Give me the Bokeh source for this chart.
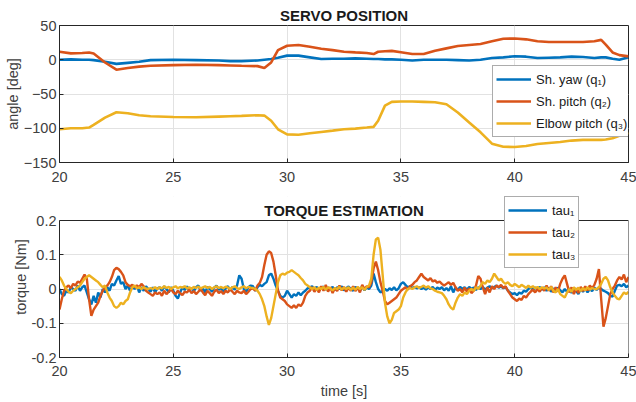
import numpy as np
from bokeh.plotting import figure
from bokeh.layouts import column
from bokeh.models import (Legend, LegendItem, FixedTicker, Range1d, BoxAnnotation,
                          Label, CustomJSTickFormatter)
from bokeh.embed import file_html
from bokeh.resources import INLINE

# ---------------- data ----------------
x_ticks = [20, 25, 30, 35, 40, 45]
pos_ticks = [-150, -100, -50, 0, 50]
tau_ticks = [-0.2, -0.1, 0, 0.1, 0.2]

q_time = [20, 20.5, 21, 21.3, 21.5, 22, 22.5, 23, 23.5, 24, 25, 26, 27, 27.5, 28,
          28.7, 29, 29.3, 29.6, 30, 30.5, 31, 31.5, 32, 32.5, 33, 33.5, 33.8, 34,
          34.3, 34.6, 35, 35.5, 36, 36.5, 37, 37.5, 38, 38.5, 39, 39.5, 40, 40.5,
          41, 41.5, 42, 42.5, 43, 43.5, 43.8, 44, 44.3, 44.6, 45]
q1 = [0, 0.5, 0, 0, -0.5, -3, -6, -4.5, -3, -0.5, 0, -0.5, -1, -2, -2,
      -1, 0, 1, 3, 6, 6, 3.5, 1, 1.5, 1.5, 2, 1.5, 1, 1,
      0.5, 0.5, 0, -1, 0, 0, 0, -0.5, -1, 0, 2.5, 3.5, 5, 4.5,
      2.5, 3, 3.5, 4.5, 4, 2.5, 3.5, 3.5, 1.5, 0, 3.5]
q2 = [11.7, 9.3, 9.8, 10.7, 9, -4, -14.5, -12, -10, -8.8, -7.8, -7.3, -7.8, -8.3, -8.8,
      -9.3, -12, -4, 14, 20.5, 21.5, 19, 16, 14, 11.7, 10.7, 9.8, 8.3, 11.7,
      12.5, 13, 11, 8.3, 8.3, 13, 16.6, 20, 21.5, 23, 27, 30.7, 31, 29.8,
      27, 26, 26, 26, 26, 27, 29, 22, 10.7, 6.8, 4.9]
q3 = [-101.5, -100, -100, -99, -95, -84.4, -76.6, -78, -81, -82.5, -83.5, -84, -83, -82.5, -82,
      -81, -81.5, -89, -101.5, -109, -109.4, -107.4, -105.4, -103.5, -101.5, -100.5, -99, -98, -89,
      -67, -61.5, -61, -61, -61.5, -62, -65, -77, -91.7, -106, -122.5, -127, -127.4, -126,
      -123, -121.5, -120, -118, -117, -117, -117, -116.5, -114.6, -111, -107]

# torque estimates, one row per second (0.1 s steps), 20.0 s ... 45.0 s
tau1 = [
    0.000, -0.015, -0.020, -0.005, -0.010, 0.005, 0.000, -0.005, 0.010, -0.005,
    0.005, 0.010, -0.010, -0.030, -0.045, -0.020, -0.040, -0.010, -0.025, 0.000,
    -0.010, 0.005, -0.005, 0.015, 0.010, 0.025, 0.038, 0.015, 0.020, 0.000,
    0.010, -0.005, 0.008, 0.000, 0.010, -0.010, 0.005, -0.005, 0.008, 0.000,
    -0.008, 0.005, -0.010, 0.002, 0.005, -0.005, 0.008, 0.000, -0.010, 0.005,
    -0.005, -0.020, -0.028, -0.010, 0.005, -0.003, 0.008, -0.005, 0.003, -0.008,
    0.005, 0.010, -0.005, 0.002, -0.010, 0.006, 0.000, -0.008, 0.004, 0.010,
    -0.003, 0.005, -0.010, 0.002, 0.008, -0.005, 0.006, -0.002, 0.010, 0.040,
    0.030, 0.000, -0.008, 0.005, 0.010, 0.008, -0.005, 0.005, 0.012, 0.008,
    0.015, 0.020, 0.040, 0.045, 0.030, 0.010, -0.005, -0.020, -0.025, -0.020,
    -0.005, -0.015, -0.025, -0.015, -0.020, -0.010, -0.018, -0.010, -0.005, 0.002,
    0.005, 0.008, 0.000, 0.006, -0.004, 0.003, 0.007, -0.002, 0.004, 0.000,
    0.006, -0.003, 0.005, 0.000, 0.008, -0.004, 0.003, 0.007, 0.000, -0.005,
    0.006, 0.002, -0.006, 0.008, -0.004, 0.005, 0.000, 0.010, 0.045, 0.020,
    0.000, -0.010, -0.005, 0.000, -0.005, 0.002, -0.003, 0.005, -0.004, 0.002,
    0.015, 0.020, 0.012, 0.005, 0.008, 0.003, 0.006, 0.002, 0.005, 0.000,
    0.004, -0.002, 0.005, 0.000, 0.006, -0.003, 0.004, 0.000, 0.005, -0.004,
    0.003, -0.005, 0.008, -0.010, 0.004, -0.003, 0.006, 0.000, 0.005, -0.002,
    0.006, 0.000, 0.004, -0.003, 0.005, 0.000, 0.006, -0.002, 0.004, 0.008,
    0.002, 0.006, 0.010, 0.004, 0.008, 0.002, 0.006, -0.005, -0.010, -0.015,
    -0.012, -0.018, -0.010, -0.014, -0.005, -0.008, 0.000, 0.005, -0.003, 0.004,
    0.000, 0.006, -0.002, 0.005, -0.005, 0.004, -0.008, 0.002, -0.006, 0.004,
    -0.004, -0.010, 0.000, -0.008, 0.002, -0.012, 0.004, -0.006, -0.015, 0.000,
    -0.008, 0.002, -0.010, 0.000, -0.006, 0.004, -0.003, 0.005, 0.000, -0.005,
    -0.008, -0.012, -0.020, -0.022, -0.005, 0.010, 0.012, 0.008, 0.015, 0.005,
    0.010]
tau2 = [
    -0.060, -0.030, -0.005, 0.005, 0.010, 0.002, 0.015, 0.010, 0.022, 0.018,
    0.030, 0.042, 0.030, -0.030, -0.078, -0.060, -0.050, -0.040, -0.020, -0.005,
    0.005, 0.010, 0.020, 0.035, 0.055, 0.062, 0.058, 0.050, 0.040, 0.020,
    0.012, 0.008, 0.012, 0.005, 0.010, 0.005, 0.015, 0.008, -0.005, -0.010,
    -0.015, -0.020, -0.010, -0.015, -0.010, -0.020, -0.005, -0.015, -0.008, 0.000,
    -0.010, -0.015, -0.005, -0.012, -0.018, -0.008, -0.010, -0.002, -0.012, -0.006,
    -0.015, -0.008, 0.000, -0.010, -0.018, -0.005, -0.012, -0.020, -0.008, -0.002,
    -0.012, -0.006, -0.015, -0.005, -0.010, 0.000, -0.008, -0.015, -0.005, -0.010,
    -0.012, -0.005, -0.015, -0.008, 0.000, 0.002, -0.005, 0.010, 0.018, 0.035,
    0.070, 0.100, 0.110, 0.105, 0.080, 0.040, -0.005, -0.025, -0.030, -0.035,
    -0.045, -0.050, -0.055, -0.048, -0.055, -0.045, -0.050, -0.040, -0.020, -0.010,
    -0.005, 0.005, -0.008, 0.002, -0.010, 0.008, -0.005, 0.012, -0.008, 0.005,
    -0.012, 0.003, -0.006, 0.010, -0.004, 0.006, -0.008, 0.004, -0.005, 0.008,
    -0.006, 0.005, -0.010, 0.012, 0.000, 0.008, 0.005, 0.020, 0.060, 0.080,
    0.055, 0.020, -0.005, -0.035, -0.045, -0.040, -0.035, -0.030, -0.025, -0.015,
    -0.005, 0.000, 0.005, -0.002, 0.008, 0.012, 0.020, 0.025, 0.035, 0.045,
    0.035, 0.030, 0.025, 0.032, 0.022, 0.025, 0.018, 0.022, 0.015, 0.010,
    0.015, 0.020, 0.012, 0.018, 0.005, -0.005, 0.000, -0.010, 0.004, -0.008,
    0.002, -0.012, -0.005, 0.010, 0.038, 0.030, 0.005, -0.015, 0.005, -0.010,
    0.008, 0.000, 0.010, 0.005, 0.012, 0.003, 0.008, -0.005, -0.015, -0.025,
    -0.030, -0.035, -0.028, -0.032, -0.020, -0.025, -0.015, -0.008, -0.002, -0.010,
    0.000, -0.008, 0.004, -0.005, 0.010, -0.005, 0.008, -0.010, 0.005, -0.008,
    0.015, 0.030, 0.040, 0.015, -0.010, 0.005, -0.015, 0.002, -0.012, 0.006,
    -0.006, 0.008, -0.004, 0.010, 0.002, 0.012, 0.030, 0.058, -0.030, -0.110,
    -0.085, -0.050, -0.015, 0.000, 0.010, 0.025, 0.035, 0.028, 0.042, 0.020,
    0.035]
tau3 = [
    0.035, 0.025, 0.010, 0.000, -0.008, -0.012, -0.005, 0.000, 0.005, 0.010,
    0.020, 0.030, 0.035, 0.040, 0.035, 0.030, 0.025, 0.020, 0.012, 0.005,
    0.010, -0.010, -0.025, -0.035, -0.050, -0.055, -0.050, -0.040, -0.045, -0.035,
    -0.030, -0.010, 0.005, 0.010, 0.002, 0.005, 0.000, 0.005, 0.002, 0.000,
    0.003, 0.000, 0.005, 0.000, 0.005, 0.002, 0.008, 0.003, 0.006, 0.000,
    0.005, 0.008, 0.002, 0.006, 0.004, 0.008, 0.002, 0.005, 0.000, 0.006,
    0.003, 0.007, 0.002, 0.005, 0.008, 0.003, 0.006, 0.000, 0.005, 0.008,
    0.003, 0.006, 0.002, 0.007, 0.004, 0.000, 0.005, 0.008, 0.003, 0.000,
    0.005, 0.008, 0.002, 0.006, 0.004, 0.003, 0.000, -0.005, -0.015, -0.030,
    -0.050, -0.080, -0.105, -0.085, -0.050, -0.015, 0.020, 0.040, 0.045, 0.042,
    0.048, 0.050, 0.055, 0.050, 0.045, 0.040, 0.032, 0.025, 0.015, 0.010,
    0.005, 0.000, 0.005, -0.003, 0.004, 0.000, 0.006, -0.002, 0.005, 0.002,
    -0.004, 0.003, 0.000, 0.006, -0.002, 0.004, 0.000, 0.005, -0.003, 0.004,
    -0.002, 0.006, 0.000, 0.005, -0.003, 0.006, 0.010, 0.030, 0.100, 0.145,
    0.150, 0.115, 0.040, -0.040, -0.080, -0.100, -0.090, -0.070, -0.065, -0.060,
    -0.050, -0.025, -0.010, 0.000, 0.003, 0.000, 0.005, 0.008, 0.003, 0.006,
    0.010, 0.004, 0.008, 0.002, 0.000, -0.005, -0.008, -0.010, -0.012, -0.020,
    -0.030, -0.045, -0.055, -0.060, -0.040, -0.025, -0.015, -0.020, -0.010, -0.015,
    -0.005, 0.000, -0.005, 0.005, 0.000, 0.010, 0.020, 0.015, 0.025, 0.020,
    0.030, 0.045, 0.035, 0.025, 0.030, 0.020, 0.015, 0.020, 0.012, 0.008,
    0.015, 0.010, 0.005, 0.012, 0.008, 0.003, 0.010, 0.004, 0.008, 0.002,
    0.006, 0.000, 0.005, 0.002, 0.004, -0.003, 0.006, -0.005, -0.010, 0.000,
    -0.015, -0.020, -0.025, -0.010, 0.000, -0.008, 0.005, -0.003, 0.004, -0.006,
    0.003, -0.004, 0.005, -0.002, 0.003, 0.000, 0.000, 0.005, 0.015, 0.030,
    0.035, 0.025, 0.005, -0.010, -0.020, -0.028, -0.030, -0.020, -0.010, -0.015,
    -0.008]

pos_labels = ["Sh. yaw (q\u2081)", "Sh. pitch (q\u2082)", "Elbow pitch (q\u2083)"]
tau_labels = ["tau\u2081", "tau\u2082", "tau\u2083"]

# ---------------- style ----------------
FONT = "Liberation Sans"
COLORS = ["#0072BD", "#D95319", "#EDB120"]
AX = "#262626"
TXT = "#404040"
GRID = "#e2e2e2"
W = 636


def tau_t(vals):
    return np.round(20.0 + 0.1 * np.arange(len(vals)), 1)


def style_axes(p, yticks, ylabel, xstand, xlabel=None, xlabstand=0):
    p.xaxis.ticker = FixedTicker(ticks=x_ticks)
    p.yaxis.ticker = FixedTicker(ticks=yticks)
    p.yaxis.axis_label = ylabel
    if xlabel:
        p.xaxis.axis_label = xlabel
    for ax in list(p.xaxis) + list(p.yaxis):
        ax.axis_line_color = AX
        ax.major_tick_line_color = AX
        ax.major_tick_in = 4
        ax.major_tick_out = 0
        ax.minor_tick_line_color = None
        ax.major_label_text_font = FONT
        ax.major_label_text_font_size = "14.5px"
        ax.major_label_text_color = TXT
        ax.axis_label_text_font = FONT
        ax.axis_label_text_font_size = "14.5px"
        ax.axis_label_text_font_style = "normal"
        ax.axis_label_text_color = TXT
        ax.axis_label_standoff = 0
    p.xaxis.axis_label_standoff = xlabstand
    p.xaxis.major_label_standoff = xstand
    p.yaxis.major_label_standoff = 3
    p.xgrid.ticker = FixedTicker(ticks=x_ticks)
    p.ygrid.ticker = FixedTicker(ticks=yticks)
    p.grid.grid_line_color = GRID
    p.grid.grid_line_width = 1
    p.background_fill_color = "white"
    p.border_fill_color = "white"


def make_legend(labels, renderers, loc, gw):
    lg = Legend(items=[LegendItem(label=l, renderers=[r]) for l, r in zip(labels, renderers)],
                location=loc)
    lg.label_text_font = FONT
    lg.label_text_font_size = "13px"
    lg.label_text_color = "#1a1a1a"
    lg.glyph_width = gw
    lg.glyph_height = 20
    lg.label_height = 20
    lg.label_standoff = 5
    lg.spacing = 2
    lg.padding = 3
    lg.margin = 0
    lg.border_line_color = "#5a5a5a"
    lg.border_line_width = 1
    lg.background_fill_color = "white"
    lg.background_fill_alpha = 1
    return lg


# ---------------- top: servo position ----------------
top = figure(width=W, height=195, x_range=Range1d(20, 45), y_range=Range1d(-150, 50),
             output_backend="svg", toolbar_location=None,
             min_border_left=59, min_border_right=8, min_border_top=25,
             min_border_bottom=33)
top.title.text = "SERVO POSITION"
top.title.align = "center"
top.title.text_font = FONT
top.title.text_font_size = "15px"
top.title.text_font_style = "bold"
top.title.text_color = "#1a1a1a"
top.title.standoff = 4
style_axes(top, pos_ticks, "angle [deg]", 9)
top.outline_line_color = AX
top.outline_line_width = 1
top.outline_line_alpha = 1
r_pos = []
for q, c in zip([q1, q2, q3], COLORS):
    r_pos.append(top.line(q_time, q, line_color=c, line_width=2.6))
top.add_layout(make_legend(pos_labels, r_pos, (433, 25), 35))

# ---------------- bottom: torque estimation ----------------
# frame reaches up to the legend top; the axes box is drawn for -0.2 .. 0.2 only
BOT_H, BOT_TOP, BOT_BOTTOM = 207, 1, 45
box_px = 137
frame_px = BOT_H - BOT_TOP - BOT_BOTTOM
per_px = (tau_ticks[-1] - tau_ticks[0]) / box_px
y_hi = tau_ticks[0] + frame_px * per_px
bot = figure(width=W, height=BOT_H, x_range=Range1d(20, 45),
             y_range=Range1d(tau_ticks[0], y_hi),
             output_backend="svg", toolbar_location=None,
             min_border_left=59, min_border_right=8, min_border_top=BOT_TOP,
             min_border_bottom=BOT_BOTTOM)
style_axes(bot, tau_ticks, "torque [Nm]", 8, xlabel="time [s]", xlabstand=4)
bot.yaxis.bounds = (tau_ticks[0], tau_ticks[-1])
bot.outline_line_color = None
bot.yaxis[0].formatter = CustomJSTickFormatter(
    code="return Math.abs(tick) < 1e-9 ? '0' : tick.toFixed(1);")
r_tau = []
for tv, c in zip([tau1, tau2, tau3], COLORS):
    r_tau.append(bot.line(tau_t(tv), tv, line_color=c, line_width=2.4))

bot.add_layout(BoxAnnotation(bottom=tau_ticks[-1], fill_color="white", fill_alpha=1,
                             line_alpha=0))
bot.add_layout(BoxAnnotation(bottom=tau_ticks[0], top=tau_ticks[-1], fill_alpha=0,
                             line_color=AX, line_width=1, line_alpha=1))
bot.add_layout(Label(x=(20 + 45) / 2, y=tau_ticks[-1] + 10.5 * per_px,
                     text="TORQUE ESTIMATION", text_align="center",
                     text_baseline="middle", text_font=FONT, text_font_size="15px",
                     text_font_style="bold", text_color="#1a1a1a"))
bot.add_layout(make_legend(tau_labels, r_tau, (445, 89), 39))

layout = column(top, bot, spacing=0)
open("out.html", "w").write(file_html(layout, INLINE))
